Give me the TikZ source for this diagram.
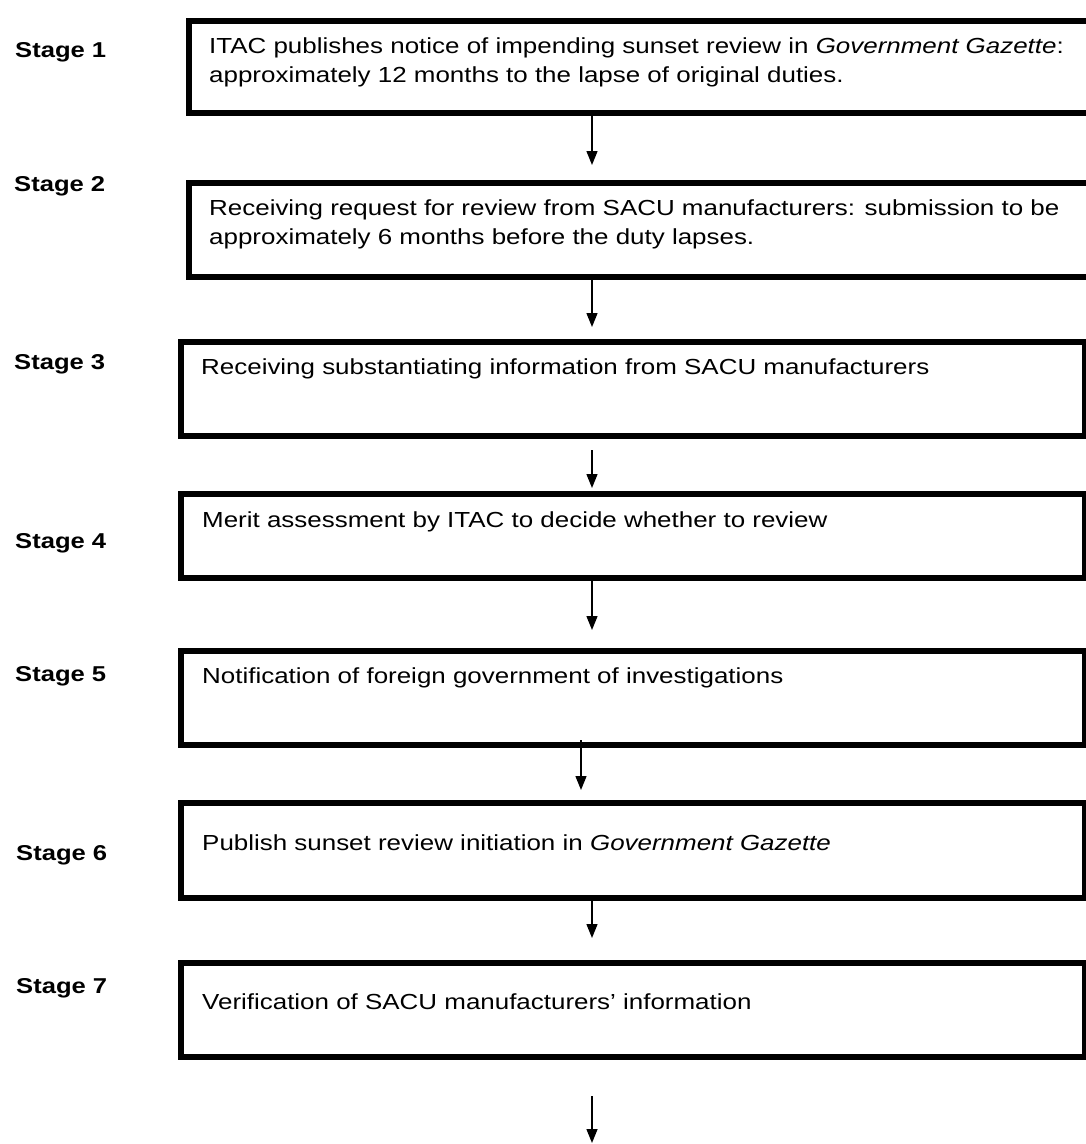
\documentclass[tikz,border=0pt]{standalone}
\usepackage{fontspec}
\setmainfont[FakeStretch=1.19]{Liberation Sans}
\usetikzlibrary{arrows.meta}
\tikzset{
  stagebox/.style={draw=black, line width=6pt, rectangle, inner sep=0pt, anchor=north west},
  stagelbl/.style={anchor=base west, inner sep=0pt, font=\fontsize{21.5}{26}\selectfont\bfseries},
  boxtxt/.style={anchor=base west, inner sep=0pt, align=left, font=\fontsize{21.8}{28.5}\selectfont},
  flowarr/.style={line width=1.4pt, -{Triangle[length=14pt,width=11pt]}},
}
\begin{document}
\begin{tikzpicture}[x=1pt,y=-1pt]
\useasboundingbox (0,0) rectangle (1086,1144);
\clip (0,0) rectangle (1086,1144);
% boxes (line centres)
\node[stagebox, minimum width=930pt, minimum height=92pt] (b1) at (186,18) {};
\node[stagebox, minimum width=930pt, minimum height=94pt] (b2) at (186,180) {};
\node[stagebox, minimum width=904pt, minimum height=94pt] (b3) at (178,339) {};
\node[stagebox, minimum width=904pt, minimum height=84pt] (b4) at (178,491) {};
\node[stagebox, minimum width=904pt, minimum height=94pt] (b5) at (178,648) {};
\node[stagebox, minimum width=904pt, minimum height=95pt] (b6) at (178,800) {};
\node[stagebox, minimum width=904pt, minimum height=94pt] (b7) at (178,960) {};
% stage labels
\node[stagelbl] (s1) at (15,57) {Stage 1};
\node[stagelbl] (s2) at (14,191) {Stage 2};
\node[stagelbl] (s3) at (14,369) {Stage 3};
\node[stagelbl] (s4) at (15,548) {Stage 4};
\node[stagelbl] (s5) at (15,681) {Stage 5};
\node[stagelbl] (s6) at (16,860) {Stage 6};
\node[stagelbl] (s7) at (16,993) {Stage 7};
% box texts (base = last line for two-line texts)
\node[boxtxt] (t1) at (209,82) {ITAC publishes notice of impending sunset review in \textit{Government Gazette}:\\approximately 12 months to the lapse of original duties.};
\node[boxtxt] (t2) at (209,244) {Receiving request for review from SACU manufacturers: submission to be\\approximately 6 months before the duty lapses.};
\node[boxtxt] (t3) at (201,374) {Receiving substantiating information from SACU manufacturers};
\node[boxtxt] (t4) at (202,527) {Merit assessment by ITAC to decide whether to review};
\node[boxtxt] (t5) at (202,683) {Notification of foreign government of investigations};
\node[boxtxt] (t6) at (202,850) {Publish sunset review initiation in \textit{Government Gazette}};
\node[boxtxt] (t7) at (202,1009) {Verification of SACU manufacturers' information};
% arrow columns
\coordinate (ax) at (592,0);
\coordinate (ax5) at (581,0);
\coordinate (endpt) at (592,1143);
% connectors
\draw[flowarr] (b1.south -| ax) -- ([yshift=15pt]b2.north -| ax);
\draw[flowarr] (b2.south -| ax) -- ([yshift=12pt]b3.north -| ax);
\draw[flowarr, shorten <=11pt] (b3.south -| ax) -- ([yshift=3pt]b4.north -| ax);
\draw[flowarr] (b4.south -| ax) -- ([yshift=18pt]b5.north -| ax);
\draw[flowarr, shorten <=-8pt] (b5.south -| ax5) -- ([yshift=10pt]b6.north -| ax5);
\draw[flowarr] (b6.south -| ax) -- ([yshift=22pt]b7.north -| ax);
\draw[flowarr, shorten <=36pt] (b7.south -| ax) -- (endpt);
\end{tikzpicture}
\end{document}
